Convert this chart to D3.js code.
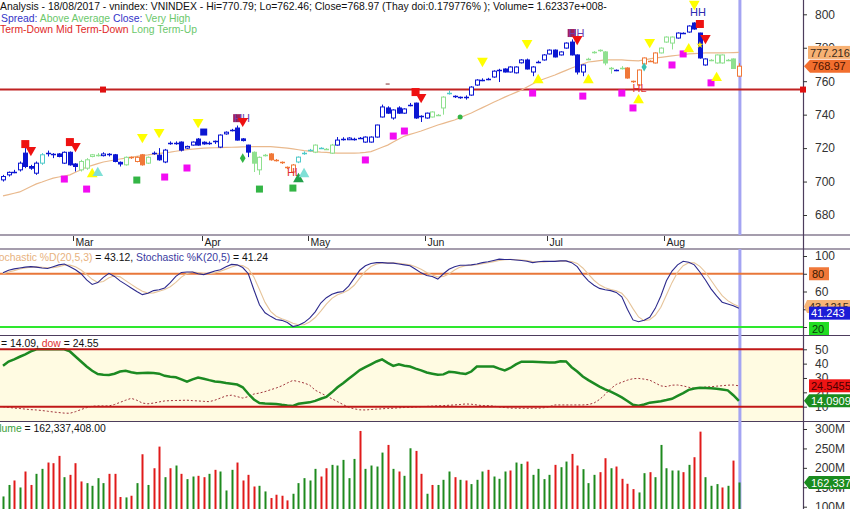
<!DOCTYPE html>
<html><head><meta charset="utf-8">
<script src="https://cdn.jsdelivr.net/npm/d3@7"></script>
<style>body{margin:0;background:#fff;overflow:hidden}svg{display:block;font-family:"Liberation Sans",Arial,sans-serif}</style>
</head><body><svg id="c" width="850" height="509"></svg>
<script>
// ---------- DATA ----------
const monthLabels = ['Mar','Apr','May','Jun','Jul','Aug'];
const monthStart  = [13,36,55,76,98,119];

const open = [701,704,705.5,707,717,709,705,711,717,716,
716.5,711,717.5,710.5,707,708,715,716,715.5,716,
716,711.5,710,714.5,712,716,711,717,715.8,711.7,
723,723,723.6,720,721.8,725.4,723.5,723,724,720.6,
728.5,730.5,732,725.5,721.8,717.5,707,715.5,716.5,713,
711.5,708.5,705.7,711.7,717,718.8,717.6,720,719.5,717,
721.8,725.4,725,725.4,726.3,723.6,723.6,726.6,738.6,744,
738,744,740.9,745.8,746.9,739.2,738,738.6,739.5,744,
752.9,751,750.5,750.5,751.7,757.7,760.7,761.3,762.5,766.7,
767.3,765.5,765,771,772.7,765.5,771.5,772.7,776.3,778.6,
775.7,779.8,783.4,775.7,765.5,773,777.2,778,777.5,767.9,
766.5,768,767.9,760,757.7,770.3,772,770.9,776.9,783.4,
782.8,785.8,789,789.4,794.8,788.8,769.7,772.5,770.9,770.9,
772.9,773.3,763];
const close = [703,705.5,705.8,711,709,708,711,716,717.2,716.2,
715,717.5,710,709,712,713,716,716,716.5,716.3,
712,710.5,714.5,714,714.5,710,714.5,717,713,718.8,
723,723.2,718.8,721,723.6,721.8,722.5,723,723.2,727.8,
729.5,731,724.8,724.5,717.6,711,714.5,716,713,712.5,
711,708,709.9,714.6,717,718.8,721.8,720,719.4,721.8,
724.8,725.4,726,725.5,725.8,726.6,726.6,733.8,744.6,740.9,
742.8,740.9,743.4,745.8,738,738.6,740.9,741.6,740,750.5,
753,750.5,749.9,750.5,756.5,760.7,760.8,761.3,766,766.7,
765.5,768.5,768.5,772.7,767.3,768.5,771.6,775.7,778.6,774.5,
777.5,782.8,775.7,765.5,769.7,773.5,777.2,778.6,770.9,767.5,
766.7,767.9,761.9,759.5,766.7,773.9,772,776.9,779.8,786.4,
786.4,788.8,788.5,793,791.2,773.9,773.3,772.8,775.7,775.7,
772.6,767.6,768.97];
const high = [704,706,707,712,720,710,712,717,718.5,717,
717,718,718,711,713,714,716.5,717,717.5,717,
716.5,712,715,715,715,716.5,715,718,720,719.5,
724,724,724,721.5,724,726,724,724,724.5,728.2,
730,731.5,733.5,726,722,718,715,716.5,717,713.5,
712,709,710.5,715,718,719.5,722.2,720.5,720,722.5,
726.6,726.5,726.5,726.2,726.6,727,727,734,746,745,
743.2,745,743.8,747,747.2,739.6,741.2,742,740.4,751,
754.5,751.5,750.8,751.5,757,761.2,761.7,762,766.5,767.4,
767.7,768.9,768.9,773.2,773.5,769,772.3,776.2,779,779,
777.9,783.2,785,776,770,774,778,779,778,768.5,
767,769,768.3,760.3,767,774.2,772.5,777.2,780.2,786.8,
786.8,789.2,789.2,793.4,795.2,789,773.6,773.2,776,776,
773.3,773.6,770.79];
const low = [700,703,705,706,708,707,704,710,715,714,
714.5,710.5,709.5,706,706,707,714.5,715,715,715,
711.5,709,709.5,713.5,711.5,709.5,710.5,716,712.5,711,
722,722,718,719.5,721.5,721.5,722,722,722.5,720,
728,730,724.5,724,714.6,705.7,704,715,712.5,712,
710.5,707.5,705,711,716,718,717,719.5,719,716.5,
721.5,724.5,724.8,724.5,725.5,723.2,723.3,726.3,738.3,740.5,
737,740.5,740.5,745,737.5,735.6,737.6,738.3,739.2,740,
752,750,749.5,749,751.3,757.3,760,760.6,762.1,759.5,
765.2,765.2,764.6,770.6,767,763,770.8,772.3,776,774.2,
775.4,779.5,775.4,764,763,772.6,776.5,777.6,769.5,764.5,
766,767,761.5,759,757.3,770,771.6,770.6,776.6,783,
779,785.5,788.2,789,790.8,773.5,769.3,772,770.5,770.5,
772,767.5,762.46];
// candle colour class per bar: b blue, g light green, o orange, t teal
const candleClass = 'bbbbbbbtbbbbbbggggbbbbgooogbbbbbbbbbbbbbbbbbbgggoooootttgtggbbbbbbbbbbbbbbbbbgggtbbbbbbbbbbbbbbbbbbbbbbbbgggggbgoooooogggbbbbbbgggggoo';

const ma20 = [691.4,692.2,693,693.8,695.4,697,698.6,699.7,700.9,702,
702.7,703.3,704,705.6,707.1,708.7,709.7,710.7,711.7,712.3,
712.9,713.5,714,714.5,715,715.5,715.9,716.4,716.8,717.2,
717.6,718.1,718.6,719.1,719.4,719.7,720,720.1,720.2,720.3,
720.4,720.5,720.6,720.7,720.8,720.9,720.9,720.9,720.9,720.6,
720.3,720,719.5,719,718.5,718.2,717.9,717.6,717.4,717.2,
717,717,717,717,717.2,717.5,717.9,719.2,720.5,721.8,
723.6,725.4,727.2,728.2,729.2,730.2,731.4,732.6,733.8,734.8,
735.8,736.8,738.2,739.6,741,742.6,744.2,745.8,747.4,748.9,
750.5,751.9,753.3,754.7,756.5,758.3,760.1,761.3,762.5,763.7,
765.1,766.5,767.9,769.1,770.3,771.5,771.9,772.3,772.7,772.7,
772.7,772.7,772.5,772.3,772.1,772.7,773.3,773.9,774.3,774.7,
775.1,775.5,775.9,776.3,776.5,776.7,776.9,776.9,776.9,776.9,
777,777.1,777.216];

const stochK = [81,84,85.5,86.5,87.5,88,87.5,86.5,86,88,
90,91,88,84.5,80,73,68,70,76,80.5,
77,72,68,64,60,56.5,58,61,62,64,
70,77,81.5,82,82,80,79,81,83,84.5,
88,90.5,90,87,80,62,45,36,32,28.5,
27.5,25,20.5,22,25,30,37,47,53,57,
59,60,66,75,84,89,91.5,92.5,92.5,92,
92,91,90,89,85,81,78,77,74,80,
85,88,89.5,89.5,90,91,92.5,93.5,95,96.5,
96,96,95.5,95,94,92.5,93.5,94,94,94,
94.5,94.5,92.5,88,79,72,67,63.5,62,61,
59,54,40,28,26,27.5,31,41,55,72,
83,90,94,93,90,82,73,63,55,48,
46,44,41.24];
const stochD = [80,82,83.5,85.3,86.5,87.3,87.7,87.3,86.7,86.8,
88,89.7,89.7,87.8,84.2,79.2,73.7,70.3,71.3,75.5,
77.8,76.5,72.3,68,64,60.2,58.2,58.5,60.3,62.3,
65.3,70.3,76.2,80.2,81.8,81.3,80.3,80,81,82.8,
85.2,87.7,89.5,89.2,85.7,76.3,62.3,47.7,37.7,32.2,
29.3,27,24.3,22.5,22.5,25.7,30.7,38,45.7,52.3,
56.3,58.7,61.7,67,75,82.7,88.2,91,92.2,92.3,
92.2,91.7,91,90,88,85,81.3,78.7,76.3,77,
79.7,84.3,87.5,89,89.7,90.2,91.2,92.3,93.7,95,
95.8,96.2,95.8,95.5,94.8,93.8,93.3,93.3,93.8,94,
94.2,94.3,93.8,91.7,86.5,79.7,72.7,67.5,64.2,62.2,
60.7,58,51,40.7,31.3,27.2,28.2,33.2,42.3,56,
70,81.7,89,92.3,92.3,88.3,81.7,72.7,63.7,55.3,
49.7,46,43.12];

const upLine = [38.5,41.5,43,44.8,46.5,48.5,50,50,50,50,
50,50,48.5,45,41.5,38,35,32.7,32.3,32.1,
33,34.5,35,34,33.3,33.5,33.7,33.5,33,31.5,
30.8,30.5,29,27.4,29,30.3,29.5,28.5,27.6,27.2,
26.5,26,25.4,23.5,19,15,12.5,12.2,12.1,11.9,
11.3,10.8,10.5,12,12.6,13,14,15.5,16.8,20,
23.5,26.3,29.5,32.5,35.5,37.5,39.5,41.5,43,40.5,
38.4,39.5,38.5,38,36.5,35.3,33.8,33,32.2,32.5,
34.3,34,33.3,32.8,34.5,38,38,38,38,36.5,
35.3,37,39.5,41.4,41.4,41.4,41.2,41,40.8,40.8,
41.7,41.5,37.5,34.5,31,28.5,26.2,24,22,20.5,
18.5,16.5,14,11.3,10.7,11.5,12.8,13.3,13.8,14.6,
15.5,17.5,19.5,21.7,22.7,23.2,23,22.8,22.5,22,
21.4,18,14.09];
const dow = [10,9.5,9,8.7,8.3,7.9,7.7,7.3,6.8,6.3,
5.9,5.5,5.4,6.5,8,9.3,10.3,10.5,10.5,10.5,
11.5,13,14.5,15.8,14.5,12.5,12,12.5,13.3,14,
14.2,14.3,14.4,14.5,14.2,14,13.7,13.5,14.5,16,
17.5,18,17,16,17,18.8,19.5,20.5,21.8,23,
24.5,26.5,28.3,27.5,26.5,25,21.5,19.5,17.5,15.5,
13.5,11.5,9.5,8.5,7.8,7.7,8,8.3,8.5,8.8,
8.9,9.2,9.4,9.6,9.8,10,10.2,10.4,10.6,10.7,
11,11.2,11.5,11.9,11.7,11.2,10.7,10.7,10.4,9.8,
9.4,9,8.9,8.9,8.9,8.9,8.9,9.2,10,11.2,
11.2,11.2,11.2,11.2,11.2,11.5,12.5,15,18.5,22.5,
25.5,27,28.5,29.5,29.7,29.2,28.5,26.5,24.5,24,
25,25.1,24.5,23.5,22.8,23.2,23.7,23.9,24.3,24.6,
25,25.1,24.55];

// volume in millions
const volume = [126.4,156,167.5,149.5,190.6,156,184.6,197.4,213.7,212,
230.8,176,182,212,165,160.7,153.8,173.5,160.7,184.6,
184.6,124.9,123.9,128.2,160.7,235,156,199,254.7,176,
199,206,184.6,171,177.7,179.5,176,184.6,194.9,190.6,
141.8,194.9,213.7,167.5,182,152,153.8,139.3,122.3,130.8,
128.2,116.2,133.3,160.7,173.5,167.5,197.4,177.7,199,207.7,
206,220.5,173.5,223,295,197.4,206,203.4,239.3,259,
197.4,190.6,179.5,250.4,243.6,184.6,133.3,156,156,169.2,
190.6,176,169.2,167.5,158.2,169.2,190.6,194.9,177.7,171.8,
190.6,193.2,213.7,210.3,216.2,182,197.4,171,182,207.7,
201.7,216.2,235.9,206,196.6,160.7,182,188.9,224.8,199,
203.4,171.8,159,145.3,136.7,186.3,188.9,176,259,199,
193.2,193.2,188.9,207.7,227.4,293.2,176,153.8,158.2,149.5,
153.8,218.7,162.337];
const volColour = 'ggrgrrggrrrgrrrggggrrrgrgrgrrgrgrggrrgrgggrrrrggrrrrgggggrrgggggrggggrgrggrrgrgggrgrgggrgggrggrggggrggrrgggrrgrrrrggrgggggrgrrgggrgrg';

// signal markers: bar index, price level, kind
const markIdx = [4,5,12,13,11,15,16,17,24,25,28,29,33,35,36,42,43,43,46,52,52,53,54,65,70,72,74,75,69,82,86,94,96,95,102,103,105,104,111,114,114,113,115,116,120,122,123,124,124.5,125,126,125,127,128];
const markVal = [722.4,718.8,723.6,721.2,701.5,695.5,704.5,705.1,700.9,726.6,729.6,702.7,708.1,735.6,729.6,737.9,736.2,714,695.5,696.1,705.7,701.5,704.5,712.9,727.2,730.2,753.5,750.5,758.3,738.6,772.1,782.8,760.7,752.9,788.8,785.2,760.7,751.1,752.9,755.9,748.7,744,768.5,783.4,769.7,776.3,779.2,806.2,801.4,794.2,785.8,781.7,759,761.9];
const markKind = ['rsq','rdn','rsq','rdn','mag','mag','yup','tup','gsq','ydn','ydn','mag','mag','ydn','bsq','hhflag','rdn','gdi','gsq','gsq','HL','gup','tup','mag','mag','mag','rsq','rdn','dash','gdot','ydn','ydn','yup','mag','hhflag','rdn','yup','mag','mag','HL','yup','mag','tdi','ydn','mag','mag','yup','ydn','HH','rsq','rdn','ydot','mag','yup'];

const supportLevel = 755;
const mainTicks = [680,700,720,740,760,780,800];
const stochTicks = [20,40,60,80,100];
const dowTicks = [10,20,30,40,50];
const volTicks = [100,150,200,250,300];

// ---------- DRAW ----------
const N = close.length;
const svg = d3.select('#c');
const AX = 803;
const FS = 10.4;
const x = d3.scaleLinear().domain([0, N-1]).range([3, 3 + (N-1)*5.575]);
const ym = d3.scaleLinear().domain([680,800]).range([215,14.3]);
const ys = d3.scaleLinear().domain([20,100]).range([327,256]);
const yd = d3.scaleLinear().domain([0,50]).range([421,349.3]);
const yv = d3.scaleLinear().domain([100,300]).range([506.7,429]);
const idx = d3.range(N);

const defs = svg.append('defs');
[['cm',0,235],['cs',249,335],['cd',336,421],['cv',422,509]].forEach(([id,a,b])=>{
  defs.append('clipPath').attr('id',id).append('rect').attr('x',0).attr('y',a).attr('width',AX).attr('height',b-a);
});

// dow background
svg.append('rect').attr('x',0).attr('y',yd(50)).attr('width',AX).attr('height',yd(0)-yd(50)).attr('fill','#fffbe2');

// panel borders
const border='#4d3d5d';
[235,249,335.5,421.5].forEach(yy=>svg.append('line').attr('x1',0).attr('x2',850).attr('y1',yy).attr('y2',yy).attr('stroke',border).attr('stroke-width',1.2));
svg.append('line').attr('x1',AX+0.5).attr('x2',AX+0.5).attr('y1',0).attr('y2',509).attr('stroke',border).attr('stroke-width',1.2);

// current-date line
const xc = x(N-1)+1;
[[0,235],[249,509]].forEach(([a,b])=>svg.append('line').attr('x1',xc).attr('x2',xc).attr('y1',a).attr('y2',b).attr('stroke','#a4a4f2').attr('stroke-width',3));

// month ticks
const mg = svg.append('g');
monthStart.forEach((s,k)=>{
  const xx = Math.round(x(s))-1.5;
  mg.append('line').attr('x1',xx).attr('x2',xx).attr('y1',236).attr('y2',241).attr('stroke','#333');
  mg.append('text').attr('x',xx+2).attr('y',245.5).attr('font-size',10.5).attr('fill','#222').text(monthLabels[k]);
});

// ---- main panel ----
const gm = svg.append('g').attr('clip-path','url(#cm)');
gm.append('line').attr('x1',0).attr('x2',AX).attr('y1',ym(supportLevel)).attr('y2',ym(supportLevel)).attr('stroke','#c02222').attr('stroke-width',2);
gm.append('path').datum(idx).attr('fill','none').attr('stroke','#e9b98d').attr('stroke-width',1.2)
  .attr('d',d3.line().x(i=>x(i)).y(i=>ym(ma20[i])));
const ccol = {b:'#0b16d2',g:'#8fe08f',o:'#f07838',t:'#4fc9c9'};
idx.forEach(i=>{
  const c = ccol[candleClass[i]] || '#0b16d2';
  const cx = Math.round(x(i))+0.5;
  gm.append('line').attr('x1',cx).attr('x2',cx).attr('y1',ym(high[i])).attr('y2',ym(low[i])).attr('stroke',c);
  const top = ym(Math.max(open[i],close[i])), bot = ym(Math.min(open[i],close[i]));
  if (bot-top < 1.5) {
    gm.append('line').attr('x1',cx-2.5).attr('x2',cx+2.5).attr('y1',Math.round(top)+0.5).attr('y2',Math.round(top)+0.5).attr('stroke',c).attr('stroke-width',1.5);
  } else {
    const up = close[i] >= open[i];
    gm.append('rect').attr('x',cx-2).attr('y',top).attr('width',4).attr('height',bot-top)
      .attr('fill',up?'#fff':c).attr('stroke',c).attr('stroke-width',1);
  }
});
// markers
const sym = (t,s)=>d3.symbol().type(t).size(s)();
markIdx.forEach((mi,k)=>{
  const px = x(mi), py = ym(markVal[k]), kind = markKind[k];
  const g = gm.append('g').attr('transform',`translate(${px},${py})`);
  switch(kind){
    case 'mag': g.append('rect').attr('x',-3.5).attr('y',-3.5).attr('width',7).attr('height',7).attr('fill','#f20cf2'); break;
    case 'gsq': g.append('rect').attr('x',-3.5).attr('y',-3.5).attr('width',7).attr('height',7).attr('fill','#33b545'); break;
    case 'rsq': g.append('rect').attr('x',-4).attr('y',-4).attr('width',8).attr('height',8).attr('fill','#ee1111'); break;
    case 'bsq': g.append('rect').attr('x',-3.5).attr('y',-3.5).attr('width',7).attr('height',7).attr('fill','#0b16d2'); break;
    case 'hhflag':
      g.append('rect').attr('x',-4).attr('y',-4).attr('width',8).attr('height',8).attr('fill','#a0205a');
      g.append('text').attr('x',-3).attr('y',4).attr('font-size',11).attr('fill','#6a40b0').text('HH'); break;
    case 'rdn': g.append('path').attr('d',sym(d3.symbolTriangle,48)).attr('transform','rotate(180)').attr('fill','#ee1111'); break;
    case 'ydn': g.append('path').attr('d',sym(d3.symbolTriangle,50)).attr('transform','rotate(180)').attr('fill','#ffff00'); break;
    case 'yup': g.append('path').attr('d',sym(d3.symbolTriangle,50)).attr('fill','#ffff00'); break;
    case 'tup': g.append('path').attr('d',sym(d3.symbolTriangle,50)).attr('fill','#7fe0d6'); break;
    case 'gup': g.append('path').attr('d',sym(d3.symbolTriangle,50)).attr('fill','#22a04a'); break;
    case 'gdi': g.append('path').attr('d',sym(d3.symbolDiamond,28)).attr('fill','#33b545'); break;
    case 'tdi': g.append('path').attr('d',sym(d3.symbolDiamond,24)).attr('fill','#3cc0b0'); break;
    case 'gdot': g.append('circle').attr('r',2.5).attr('fill','#33b545'); break;
    case 'ydot': g.append('path').attr('d',sym(d3.symbolStar,16)).attr('fill','#ffee00'); break;
    case 'dash': g.append('line').attr('x1',-2).attr('x2',2).attr('stroke','#803030'); break;
    case 'HL': g.append('text').attr('x',-6).attr('y',4).attr('font-size',11).attr('fill','#e03030').text('HL'); break;
    case 'HH': g.append('text').attr('x',-7).attr('y',4).attr('font-size',11).attr('fill','#2b2bb0').text('HH'); break;
  }
});
// support level end squares
[103, AX].forEach(px=>svg.append('rect').attr('x',px-3).attr('y',ym(supportLevel)-3).attr('width',6).attr('height',6).attr('fill','#e01010'));

// ---- stochastic panel ----
const gs = svg.append('g').attr('clip-path','url(#cs)');
gs.append('line').attr('x1',0).attr('x2',AX).attr('y1',ys(80)).attr('y2',ys(80)).attr('stroke','#e8773a').attr('stroke-width',2);
gs.append('line').attr('x1',0).attr('x2',AX).attr('y1',ys(20)).attr('y2',ys(20)).attr('stroke','#2ee82e').attr('stroke-width',2);
gs.append('path').datum(idx).attr('fill','none').attr('stroke','#e6c49a').attr('stroke-width',1.1).attr('d',d3.line().x(i=>x(i)).y(i=>ys(stochD[i])));
gs.append('path').datum(idx).attr('fill','none').attr('stroke','#2d2a8c').attr('stroke-width',1.1).attr('d',d3.line().x(i=>x(i)).y(i=>ys(stochK[i])));

// ---- dow panel ----
const gd = svg.append('g').attr('clip-path','url(#cd)');
gd.append('path').datum(idx).attr('fill','none').attr('stroke','#a0343c').attr('stroke-width',1).attr('stroke-dasharray','2,2').attr('d',d3.line().x(i=>x(i)).y(i=>yd(dow[i])));
gd.append('path').datum(idx).attr('fill','none').attr('stroke','#1c8a22').attr('stroke-width',2.5).attr('d',d3.line().x(i=>x(i)).y(i=>yd(upLine[i])));
[50,10].forEach(v=>gd.append('line').attr('x1',0).attr('x2',AX).attr('y1',yd(v)).attr('y2',yd(v)).attr('stroke','#c01818').attr('stroke-width',2));

// ---- volume panel ----
const gv = svg.append('g').attr('clip-path','url(#cv)');
gv.selectAll('line.v').data(idx).join('line').attr('x1',i=>Math.round(x(i))+0.5).attr('x2',i=>Math.round(x(i))+0.5)
  .attr('y1',i=>yv(volume[i])).attr('y2',yv(0)).attr('stroke-width',2)
  .attr('stroke',i=>volColour[i]==='r'?'#e01a1a':'#1e8a1e');

// ---- right axes ----
function rightAxis(scale, ticks, fmt){
  const g = svg.append('g').attr('transform',`translate(${AX},0)`)
    .call(d3.axisRight(scale).tickValues(ticks).tickSize(4).tickPadding(8).tickFormat(fmt));
  g.select('.domain').remove();
  g.selectAll('line').attr('stroke','#333');
  g.selectAll('text').attr('font-size',12).attr('fill','#333').attr('font-family','"Liberation Sans",Arial,sans-serif');
}
rightAxis(ym, mainTicks, d3.format('d'));
rightAxis(ys, stochTicks, d3.format('d'));
rightAxis(yd, dowTicks, d3.format('d'));
rightAxis(yv, volTicks, d=>d+'M');

// value tags
function tag(yy, txt, fill, tc, arrow, x0){
  const g = svg.append('g');
  const h=13, x1 = x0 || 809;
  if(arrow){
    g.append('path').attr('d',`M${AX+1},${yy} L${x1},${yy-h/2} L852,${yy-h/2} L852,${yy+h/2} L${x1},${yy+h/2} Z`).attr('fill',fill);
  } else {
    g.append('rect').attr('x',x1).attr('y',yy-h/2).attr('width',852-x1).attr('height',h).attr('fill',fill);
  }
  g.append('text').attr('x',x1+2).attr('y',yy+4.2).attr('font-size',11).attr('fill',tc).text(txt);
  return g;
}
tag(ym(ma20[N-1]), '777.216', '#f7b173', '#3a2a1a', false, 808);
tag(ym(close[N-1]), '768.97', '#f26e2e', '#4a1200', true, 810);
// stochastic tags
{ const g=svg.append('g'); g.append('rect').attr('x',809).attr('y',ys(80)-6.5).attr('width',20).attr('height',13).attr('fill','#f0783a');
  g.append('text').attr('x',812).attr('y',ys(80)+4.2).attr('font-size',11).attr('fill','#3a1a00').text('80'); }
tag(ys(stochD[N-1]), '43.1215', '#f6b477', '#3a2a1a', true, 807);
tag(ys(stochK[N-1])+5, '41.243', '#1c1cd6', '#fff', false, 809);
{ defs.append('clipPath').attr('id','cs2').append('rect').attr('x',800).attr('y',249).attr('width',50).attr('height',86);
  const g=svg.append('g').attr('clip-path','url(#cs2)');
  g.append('rect').attr('x',809).attr('y',ys(20)-5).attr('width',20).attr('height',13).attr('fill','#22dd22');
  g.append('text').attr('x',812).attr('y',ys(20)+6).attr('font-size',11).attr('fill','#0a3a0a').text('20'); }
// dow tags
tag(yd(dow[N-1]), '24.5455', '#ee1414', '#4a0000', false, 809);
tag(yd(upLine[N-1]), '14.0909', '#1a8c1e', '#fff', true, 809);
// volume tag
tag(yv(volume[N-1]), '162,337,408', '#1a8c1e', '#fff', true, 809);

// ---- titles ----
const T = svg.append('g').attr('font-size',FS);
T.append('text').attr('x',0).attr('y',10).attr('fill','#111')
  .text('Analysis - 18/08/2017 - vnindex: VNINDEX - Hi=770.79; Lo=762.46; Close=768.97 (Thay doi:0.179776% ); Volume= 1.62337e+008-');
const t2 = T.append('text').attr('x',1).attr('y',21.5);
t2.append('tspan').attr('fill','#3434c8').text('Spread: ');
t2.append('tspan').attr('fill','#6cc86c').text('Above Average ');
t2.append('tspan').attr('fill','#3434c8').text('Close: ');
t2.append('tspan').attr('fill','#6cc86c').text('Very High');
const t3 = T.append('text').attr('x',0).attr('y',33);
t3.append('tspan').attr('fill','#e02828').text('Term-Down Mid Term-Down ');
t3.append('tspan').attr('fill','#6cc86c').text('Long Term-Up');

const t4 = T.append('text').attr('x',-11).attr('y',261);
t4.append('tspan').attr('fill','#e8b27e').text('Stochastic %D(20,5,3)');
t4.append('tspan').attr('fill','#111').text(' = 43.12, ');
t4.append('tspan').attr('fill','#3a3aa0').text('Stochastic %K(20,5)');
t4.append('tspan').attr('fill','#111').text(' = 41.24');

const t5 = T.append('text').attr('x',1).attr('y',347);
t5.append('tspan').attr('fill','#111').text('= 14.09, ');
t5.append('tspan').attr('fill','#e03030').text('dow');
t5.append('tspan').attr('fill','#111').text(' = 24.55');

const t6 = T.append('text').attr('x',-13).attr('y',432);
t6.append('tspan').attr('fill','#3aa03a').text('Volume');
t6.append('tspan').attr('fill','#111').text(' = 162,337,408.00');
</script></body></html>
